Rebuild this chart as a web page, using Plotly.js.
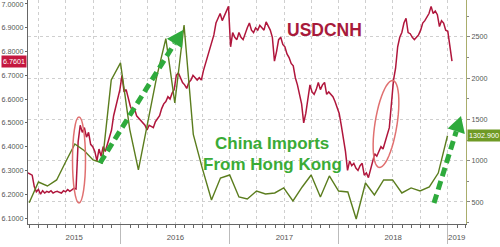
<!DOCTYPE html>
<html><head><meta charset="utf-8">
<script src="https://cdn.plot.ly/plotly-3.0.1.min.js"></script>
<style>html,body{margin:0;padding:0;background:#fff;}#chart{width:500px;height:247px;}</style>
</head><body><div id="chart"></div>
<script>
// USDCNH, weekly readings starting 2015-02-24
const usdcnhStart = '2015-02-24';
const usdcnhValues = [
6.290,6.285,6.280,6.232,6.210,6.220,6.200,6.215,6.205,6.212,
6.208,6.215,6.205,6.210,6.212,6.208,6.205,6.215,6.210,6.220,
6.212,6.218,6.225,6.222,6.420,6.490,6.460,6.480,6.440,6.460,
6.410,6.400,6.380,6.340,6.390,6.360,6.400,6.380,6.410,6.430,
6.470,6.530,6.570,6.600,6.640,6.700,6.630,6.640,6.600,6.570,
6.550,6.560,6.530,6.520,6.510,6.500,6.490,6.470,6.490,6.485,
6.480,6.505,6.520,6.530,6.560,6.580,6.590,6.610,6.600,6.625,
6.640,6.700,6.710,6.690,6.670,6.660,6.645,6.670,6.680,6.700,
6.690,6.680,6.690,6.680,6.720,6.750,6.780,6.800,6.840,6.870,
6.920,6.940,6.960,6.930,6.950,6.970,6.990,6.820,6.880,6.860,
6.850,6.880,6.860,6.850,6.880,6.900,6.920,6.890,6.880,6.900,
6.890,6.910,6.900,6.890,6.925,6.910,6.890,6.860,6.760,6.800,
6.850,6.860,6.830,6.820,6.790,6.775,6.750,6.740,6.690,6.660,
6.620,6.580,6.500,6.540,6.600,6.660,6.630,6.620,6.640,6.670,
6.640,6.660,6.670,6.620,6.630,6.620,6.610,6.590,6.560,6.540,
6.490,6.440,6.380,6.300,6.340,6.320,6.330,6.310,6.300,6.320,
6.330,6.280,6.290,6.270,6.300,6.330,6.370,6.360,6.380,6.400,
6.390,6.420,6.440,6.480,6.580,6.680,6.730,6.820,6.860,6.880,
6.920,6.940,6.880,6.875,6.860,6.850,6.860,6.870,6.890,6.920,
6.930,6.945,6.960,6.990,6.960,6.970,6.955,6.905,6.930,6.920,
6.890,6.885,6.830,6.7601
];
// China imports from Hong Kong, monthly (month ends from Feb 2015)
const importsStartYear = 2015, importsStartMonth = 2; // February
const importsValues = [
490,742,694,767,985,1203,1125,1009,973,1979,
2185,1380,888,1470,2010,2480,1700,2645,1320,910,
524,790,827,561,536,633,597,609,670,512,
682,827,561,815,633,621,294,730,585,767,
767,609,670,633,682,850,1302.9
];
const yearLabels = ['2015','2016','2017','2018','2019'];
const leftTicks = [6.1,6.2,6.3,6.4,6.5,6.6,6.7,6.8,6.9,7.0];
const rightTicks = [500,1000,1500,2000,2500];
const xRange = ['2015-02-24','2019-03-03'];

const DAY = 86400000;
const iso = t => new Date(t).toISOString().slice(0,10);
const t0 = Date.parse(usdcnhStart);
const usdDates = usdcnhValues.map((v,i)=>iso(t0 + i*7*DAY));
const impDates = importsValues.map((v,i)=>iso(Date.UTC(importsStartYear, importsStartMonth+i, 0)));

// year label positions: middle of the visible part of each year
const r0 = Date.parse(xRange[0]), r1 = Date.parse(xRange[1]);
const labelVals = yearLabels.map(y=>{
  const a = Math.max(Date.UTC(+y,0,1), r0), b = Math.min(Date.UTC(+y+1,0,1), r1);
  return iso((a+b)/2);
});

// pixel -> paper helpers (plot area 28..466 x 0..224)
const L=28,R=466,T=0,B=224;
const px = x => (x-L)/(R-L);
const py = y => (B-y)/(B-T);

function ellipsePath(cx,cy,a,b,deg){
  const th = deg*Math.PI/180;
  const m=[Math.sin(th),-Math.cos(th)], n=[Math.cos(th),Math.sin(th)];
  let p='';
  for(let k=0;k<=48;k++){
    const t=k/48*2*Math.PI;
    const x=cx+a*Math.sin(t)*m[0]+b*Math.cos(t)*n[0];
    const y=cy+a*Math.sin(t)*m[1]+b*Math.cos(t)*n[1];
    p+=(k?'L':'M')+px(x).toFixed(4)+','+py(y).toFixed(4);
  }
  return p+'Z';
}
function arrowShapes(x0,y0,x1,y1,col){
  const dx=x1-x0, dy=y1-y0, len=Math.hypot(dx,dy);
  const u=[dx/len,dy/len], n=[-u[1],u[0]];
  const hl=16, hw=9;
  const bx=x1-hl*u[0], by=y1-hl*u[1];
  return [
    {type:'line',xref:'paper',yref:'paper',x0:px(x0),y0:py(y0),x1:px(bx),y1:py(by),
     line:{color:col,width:5,dash:'9px,5px'}},
    {type:'path',xref:'paper',yref:'paper',fillcolor:col,line:{width:0},
     path:'M'+px(x1)+','+py(y1)+'L'+px(bx+hw*n[0])+','+py(by+hw*n[1])+'L'+px(bx-hw*n[0])+','+py(by-hw*n[1])+'Z'}
  ];
}
const arrowCol='#2eaa3c';
const shapes = [
  {type:'circle',xref:'paper',yref:'paper',x0:px(72.5),x1:px(85.5),y0:py(203),y1:py(117),
   line:{color:'#e07070',width:1.5}},
  {type:'path',xref:'paper',yref:'paper',path:ellipsePath(386,124,44,11,9),
   line:{color:'#e07070',width:1.5}},
  ...arrowShapes(100,163,183,30,arrowCol),
  ...arrowShapes(434,203,461,116,arrowCol)
];

const font = 'Liberation Sans, Arial, sans-serif';
const tickFont = {family:font,size:7.2,color:'#555'};
const lastUsd = usdcnhValues[usdcnhValues.length-1];
const lastImp = importsValues[importsValues.length-1];

const traces = [
  {x:impDates,y:importsValues,xaxis:'x2',yaxis:'y2',type:'scatter',mode:'lines',
   line:{color:'#5b7d1e',width:1.4},hoverinfo:'skip'},
  {x:usdDates,y:usdcnhValues,xaxis:'x',yaxis:'y',type:'scatter',mode:'lines',
   line:{color:'#b0163c',width:1.5},hoverinfo:'skip'}
];

const layout = {
  width:500,height:247,margin:{l:L,r:500-R,t:T,b:247-B},
  paper_bgcolor:'#fff',plot_bgcolor:'#fff',showlegend:false,
  font:{family:font},
  xaxis:{type:'date',range:xRange,tickmode:'array',tickvals:labelVals,ticktext:yearLabels,
    ticks:'',showgrid:false,showline:true,linecolor:'#666',linewidth:1,zeroline:false,
    tickfont:{family:font,size:7.8,color:'#555'},ticklabelstandoff:6,
    minor:{tickmode:'linear',tick0:'2015-01-01',dtick:'M1',ticks:'outside',ticklen:3,tickcolor:'#666',showgrid:false}},
  xaxis2:{type:'date',range:xRange,overlaying:'x',anchor:'y2',tick0:'2015-01-01',dtick:'M12',
    ticks:'outside',ticklen:19,tickcolor:'#bbb',showticklabels:false,showline:false,zeroline:false,
    showgrid:true,gridcolor:'#cfcfcf',griddash:'dot',gridwidth:1,
    minor:{tick0:'2015-01-01',dtick:'M3',showgrid:true,gridcolor:'#cfcfcf',griddash:'dot',ticks:''}},
  yaxis:{range:[6.0748,7.0168],tickmode:'array',tickvals:leftTicks,tickformat:'.4f',ticks:'outside',ticklen:2,
    ticklabeloverflow:'allow',
    tickcolor:'#666',showgrid:false,showline:true,linecolor:'#666',zeroline:false,tickfont:tickFont},
  yaxis2:{range:[233,2948],overlaying:'y',side:'right',anchor:'x2',tickmode:'array',tickvals:rightTicks,ticks:'outside',ticklen:3,
    tickcolor:'#888',showline:true,linecolor:'#a9ad6c',zeroline:false,tickfont:tickFont,
    showgrid:true,gridcolor:'#cfcfcf',griddash:'dot',
    minor:{tickmode:'linear',tick0:0,dtick:250,ticks:'outside',ticklen:2,tickcolor:'#888',showgrid:false}},
  shapes:shapes,
  annotations:[
    {xref:'paper',yref:'paper',x:px(324),y:py(30),xanchor:'center',yanchor:'middle',text:'<b>USDCNH</b>',showarrow:false,
     font:{family:font,size:17.5,color:'#a81a3b'}},
    {xref:'paper',yref:'paper',x:px(272),y:py(143),xanchor:'center',yanchor:'middle',text:'<b>China Imports</b>',showarrow:false,
     font:{family:font,size:17,color:'#3aab36'}},
    {xref:'paper',yref:'paper',x:px(272),y:py(164),xanchor:'center',yanchor:'middle',text:'<b>From Hong Kong</b>',showarrow:false,
     font:{family:font,size:17,color:'#3aab36'}},
    {xref:'paper',yref:'y',x:0,y:lastUsd,xanchor:'right',yanchor:'middle',xshift:-1,text:lastUsd.toFixed(4),showarrow:false,
     bgcolor:'#c4173f',borderpad:1,font:{family:font,size:7.2,color:'#fff'}},
    {xref:'paper',yref:'y2',x:1,y:lastImp,xanchor:'left',yanchor:'middle',xshift:1,text:lastImp.toFixed(3),showarrow:false,
     bgcolor:'#6f9a25',borderpad:1,font:{family:font,size:7.2,color:'#fff'}}
  ]
};
Plotly.newPlot('chart',traces,layout,{staticPlot:true,displayModeBar:false});
</script></body></html>
